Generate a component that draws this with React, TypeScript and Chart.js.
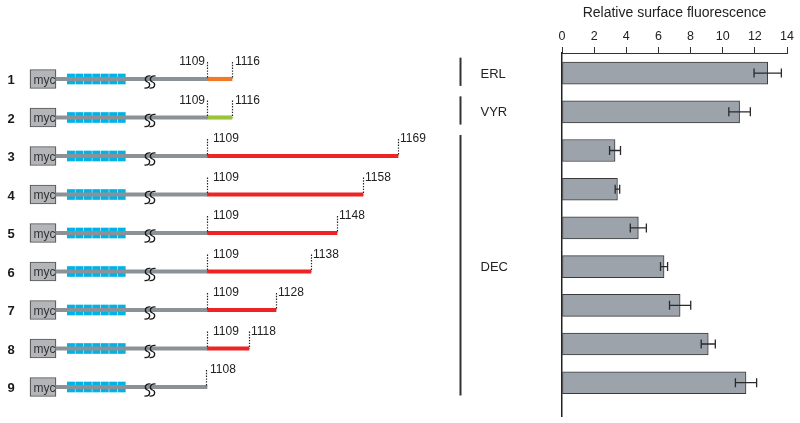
import React, { useEffect, useRef } from 'react';
import { Chart, registerables } from 'chart.js';

Chart.register(...registerables);

const FONT = "'Liberation Sans', Arial, Helvetica, sans-serif";

// ---------- data: right panel (bar chart) ----------
const constructs = ['1', '2', '3', '4', '5', '6', '7', '8', '9'];
const fluorescence = [12.8, 11.05, 3.3, 3.45, 4.75, 6.35, 7.35, 9.1, 11.45];
const fluorescenceErr = [0.85, 0.67, 0.34, 0.14, 0.5, 0.22, 0.66, 0.44, 0.66];
const axisTitle = 'Relative surface fluorescence';
const xMin = 0;
const xMax = 14;
const xStep = 2;
const groupLabels = ['ERL', 'VYR', 'DEC'];
const groupStart = [0, 1, 2];
const groupEnd = [0, 1, 8];

// ---------- data: left panel (schematic) ----------
const tailStartResidue = 1109;
const tailEndResidue = [1116, 1116, 1169, 1158, 1148, 1138, 1128, 1118, 1108];
// drawn length of the C-terminal tail in diagram units (schematic, not to scale)
const tailDrawnLength = [25, 25, 191, 156, 130, 104, 69, 42, 0];
const tailType = ['ERL', 'VYR', 'DEC', 'DEC', 'DEC', 'DEC', 'DEC', 'DEC', 'none'];
const repeatCount = 7;

// ---------- diagram layout (units of the schematic x scale) ----------
const MYC_START = 30;
const MYC_END = 56;
const REP_START = 67.3;
const REP_W = 7.3;
const REP_PITCH = 8.45;
const BREAK_X = 150;
const JUNCTION = 207;

const tailColors: Record<string, string> = {
  ERL: '#f07a2a',
  VYR: '#9cc43a',
  DEC: '#ee2424',
  none: 'rgba(0,0,0,0)',
};

function dottedV(ctx: CanvasRenderingContext2D, px: number, top: number, bottom: number) {
  ctx.beginPath();
  ctx.setLineDash([1.4, 1.4]);
  ctx.lineWidth = 1.2;
  ctx.strokeStyle = '#222';
  ctx.moveTo(Math.round(px) + 0.5, top);
  ctx.lineTo(Math.round(px) + 0.5, bottom);
  ctx.stroke();
  ctx.setLineDash([]);
}

function drawS(ctx: CanvasRenderingContext2D, cx: number, cy: number) {
  ctx.beginPath();
  ctx.moveTo(cx + 3, cy - 6);
  ctx.bezierCurveTo(cx - 3.5, cy - 6.5, cx - 3, cy - 1, cx, cy);
  ctx.bezierCurveTo(cx + 3, cy + 1, cx + 3.5, cy + 6.5, cx - 3, cy + 6);
  ctx.stroke();
}

const schematicPlugin = {
  id: 'schematic',
  afterDatasetsDraw(chart: any) {
    const { ctx, scales } = chart;
    const x = scales.x;
    const y = scales.y;
    ctx.save();
    constructs.forEach((lab, i) => {
      const cy = y.getPixelForValue(i);
      // row number
      ctx.font = `bold 13px ${FONT}`;
      ctx.fillStyle = '#1a1a1a';
      ctx.textAlign = 'center';
      ctx.textBaseline = 'middle';
      ctx.fillText(lab, x.getPixelForValue(11), cy + 1.5);
      // myc label
      ctx.font = `12px ${FONT}`;
      ctx.fillStyle = '#333';
      ctx.fillText('myc', x.getPixelForValue((MYC_START + MYC_END) / 2) + 1.5, cy + 1.5);
      // break symbol
      ctx.lineWidth = 1.3;
      ctx.strokeStyle = '#1a1a1a';
      drawS(ctx, x.getPixelForValue(BREAK_X - 2.5), cy + 3);
      drawS(ctx, x.getPixelForValue(BREAK_X + 2.5), cy + 3);

      // markers and residue labels
      const len = tailDrawnLength[i];
      const top = cy - 17;
      ctx.font = `12px ${FONT}`;
      ctx.fillStyle = '#222';
      ctx.textBaseline = 'alphabetic';
      const base = cy - 14;
      if (len > 0) {
        const sx = x.getPixelForValue(JUNCTION);
        const ex = x.getPixelForValue(JUNCTION + len);
        dottedV(ctx, sx, top, cy);
        dottedV(ctx, ex, top, cy);
        if (len < 30) {
          ctx.textAlign = 'right';
          ctx.fillText(String(tailStartResidue), sx - 2, base);
          ctx.textAlign = 'left';
          ctx.fillText(String(tailEndResidue[i]), ex + 3, base);
        } else {
          ctx.textAlign = 'left';
          ctx.fillText(String(tailStartResidue), sx + 6, base);
          ctx.fillText(String(tailEndResidue[i]), ex + 2, base);
        }
      } else {
        const ex = x.getPixelForValue(JUNCTION - 1);
        dottedV(ctx, ex, top, cy);
        ctx.textAlign = 'left';
        ctx.fillText(String(tailEndResidue[i]), ex + 4, base);
      }
    });
    ctx.restore();
  },
};

const errorBarPlugin = {
  id: 'errorBars',
  afterDatasetsDraw(chart: any) {
    const { ctx, scales, chartArea } = chart;
    const x = scales.x;
    const y = scales.y;
    ctx.save();
    ctx.strokeStyle = '#2a2a2a';
    ctx.lineWidth = 1.3;
    fluorescence.forEach((v, i) => {
      const cy = y.getPixelForValue(i);
      const x1 = x.getPixelForValue(v - fluorescenceErr[i]);
      const x2 = x.getPixelForValue(v + fluorescenceErr[i]);
      ctx.beginPath();
      ctx.moveTo(x1, cy);
      ctx.lineTo(x2, cy);
      ctx.moveTo(x1, cy - 4.5);
      ctx.lineTo(x1, cy + 4.5);
      ctx.moveTo(x2, cy - 4.5);
      ctx.lineTo(x2, cy + 4.5);
      ctx.stroke();
    });
    // group brackets and labels
    const lineX = chartArea.left - 101.5;
    groupLabels.forEach((g, k) => {
      const t = y.getPixelForValue(groupStart[k] - 0.4);
      const b = y.getPixelForValue(groupEnd[k] + 0.33);
      ctx.beginPath();
      ctx.lineWidth = 2;
      ctx.strokeStyle = '#333';
      ctx.moveTo(lineX, t);
      ctx.lineTo(lineX, b);
      ctx.stroke();
      const mid = y.getPixelForValue((groupStart[k] + groupEnd[k]) / 2);
      ctx.font = `13px ${FONT}`;
      ctx.fillStyle = '#222';
      ctx.textAlign = 'left';
      ctx.textBaseline = 'middle';
      ctx.fillText(g, lineX + 20, mid + 1);
    });
    ctx.restore();
  },
};

export default function App() {
  const leftRef = useRef<HTMLCanvasElement>(null);
  const rightRef = useRef<HTMLCanvasElement>(null);

  useEffect(() => {
    document.body.style.margin = '0';
    const rows = constructs.map((_, i) => i);

    const backbone = rows.map((i) => ({ y: i, x: [MYC_END, JUNCTION] }));
    const tails = rows.map((i) => ({ y: i, x: [JUNCTION, JUNCTION + tailDrawnLength[i]] }));
    const tailBg = rows.map((i) => tailColors[tailType[i]]);
    const mycBoxes = rows.map((i) => ({ y: i, x: [MYC_START, MYC_END] }));
    const repeats: { y: number; x: number[] }[] = [];
    rows.forEach((i) => {
      for (let k = 0; k < repeatCount; k++) {
        const s = REP_START + k * REP_PITCH;
        repeats.push({ y: i, x: [s, s + REP_W] });
      }
    });

    const left = new Chart(leftRef.current!, {
      type: 'bar',
      data: {
        datasets: [
          { data: backbone as any, backgroundColor: '#8a9298', barThickness: 3.5, grouped: false, borderWidth: 0 } as any,
          { data: tails as any, backgroundColor: tailBg, barThickness: 3.5, grouped: false, borderWidth: 0 } as any,
          {
            data: mycBoxes as any,
            backgroundColor: '#b3b5b9',
            borderColor: '#555',
            borderWidth: 1.2,
            borderSkipped: false,
            barThickness: 19,
            grouped: false,
          } as any,
          { data: repeats as any, backgroundColor: '#00b2e5', barThickness: 10, grouped: false, borderWidth: 0 } as any,
        ],
      },
      options: {
        indexAxis: 'y',
        animation: false,
        responsive: false,
        devicePixelRatio: 1,
        events: [],
        layout: { padding: 0 },
        plugins: { legend: { display: false }, tooltip: { enabled: false } },
        scales: {
          x: { type: 'linear', display: false, min: 0, max: 440, offset: false },
          y: { type: 'linear', display: false, reverse: true, min: -79 / 38.5, max: (423 - 79) / 38.5, offset: false },
        },
      } as any,
      plugins: [schematicPlugin],
    });

    const right = new Chart(rightRef.current!, {
      type: 'bar',
      data: {
        datasets: [
          {
            data: fluorescence.map((v, i) => ({ x: v, y: i })) as any,
            backgroundColor: '#9ca3ab',
            borderColor: '#3a3a3a',
            borderWidth: 1,
            borderSkipped: false,
            barThickness: 22,
            grouped: false,
          } as any,
        ],
      },
      options: {
        indexAxis: 'y',
        animation: false,
        responsive: false,
        devicePixelRatio: 1,
        events: [],
        layout: { padding: { left: 122, right: 13, top: 0, bottom: 7 } },
        plugins: { legend: { display: false }, tooltip: { enabled: false } },
        scales: {
          x: {
            type: 'linear',
            position: 'top',
            min: xMin,
            max: xMax,
            offset: false,
            ticks: { stepSize: xStep, color: '#222', font: { family: FONT, size: 12.5 }, padding: 3 },
            grid: { drawOnChartArea: false, drawTicks: true, tickLength: 6, color: '#333', lineWidth: 1 },
            border: { display: true, color: '#333', width: 1 },
            title: {
              display: true,
              text: axisTitle,
              color: '#222',
              font: { family: FONT, size: 14 },
              padding: { top: 5, bottom: 2 },
            },
            afterFit: (s: any) => {
              s.height = 53;
            },
          },
          y: {
            type: 'linear',
            reverse: true,
            min: -0.52,
            max: 8.86,
            offset: false,
            ticks: { display: false },
            grid: { display: false },
            border: { display: true, color: '#222', width: 1.5 },
            afterFit: (s: any) => {
              s.width = 0;
            },
          },
        },
      } as any,
      plugins: [errorBarPlugin],
    });

    return () => {
      left.destroy();
      right.destroy();
    };
  }, []);

  return (
    <div style={{ position: 'relative', width: 800, height: 423, background: '#fff' }}>
      <canvas ref={leftRef} width={440} height={423} style={{ position: 'absolute', left: 0, top: 0, width: 440, height: 423 }} />
      <canvas ref={rightRef} width={360} height={423} style={{ position: 'absolute', left: 440, top: 0, width: 360, height: 423 }} />
    </div>
  );
}
